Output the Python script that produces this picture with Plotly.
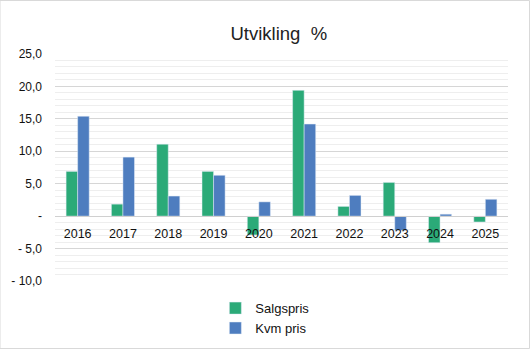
import plotly.graph_objects as go

years = ["2016", "2017", "2018", "2019", "2020", "2021", "2022", "2023", "2024", "2025"]
salgspris = [6.9, 1.85, 11.1, 6.9, -2.9, 19.4, 1.5, 5.2, -4.1, -0.9]
kvm_pris = [15.4, 9.1, 3.1, 6.3, 2.2, 14.2, 3.2, -2.2, 0.3, 2.6]

y_tickvals = [25, 20, 15, 10, 5, 0, -5, -10]
y_ticktext = ["25,0", "20,0", "15,0", "10,0", "5,0", "-", "- 5,0", "- 10,0"]

GREEN = "#2BAA78"
BLUE = "#4E7DBF"
FONT = "Liberation Sans"

fig = go.Figure()
fig.add_trace(go.Bar(x=years, y=salgspris, name="Salgspris", marker_color=GREEN))
fig.add_trace(go.Bar(x=years, y=kvm_pris, name="Kvm pris", marker_color=BLUE))

y_min, y_max = -10, 25
zero_pos = (0 - y_min) / (y_max - y_min)

fig.update_layout(
    width=531, height=349,
    margin=dict(l=55, r=23, t=54, b=68, autoexpand=False),
    paper_bgcolor="white", plot_bgcolor="white",
    barmode="group", bargap=0.49, bargroupgap=0,
    font=dict(family=FONT, color="#222"),
    title=dict(text="Utvikling  %", x=0.525, xanchor="center", y=0.905, yanchor="middle",
               font=dict(size=18.5, color="#222", family=FONT)),
    showlegend=True,
    legend=dict(orientation="v", x=0.354, xanchor="left", xref="paper",
                y=0.16, yanchor="top", yref="container",
                font=dict(size=13, color="#111", family=FONT), itemwidth=30,
                tracegroupgap=2, bgcolor="rgba(0,0,0,0)"),
    xaxis=dict(anchor="free", position=zero_pos, showline=True, linecolor="#d0d0d0", linewidth=1,
               ticks="", tickfont=dict(size=12.5, color="#111"), showgrid=False,
               ticklabelstandoff=6),
    yaxis=dict(range=[y_min, y_max], tickvals=y_tickvals, ticktext=y_ticktext,
               showgrid=True, gridcolor="#d6d6d6", gridwidth=1, zeroline=False,
               tickfont=dict(size=12, color="#111"), ticklabelstandoff=12,
               minor=dict(dtick=1, showgrid=True, gridcolor="#eeeeee", gridwidth=1)),
    shapes=[dict(type="rect", xref="paper", yref="paper",
                 x0=-55 / 453, x1=529.5 / 453 - 55 / 453,
                 y0=-67.5 / 227, y1=1 + 53.5 / 227,
                 line=dict(color="#d9d9d9", width=1), layer="below")],
)

fig.write_html("out.html")
